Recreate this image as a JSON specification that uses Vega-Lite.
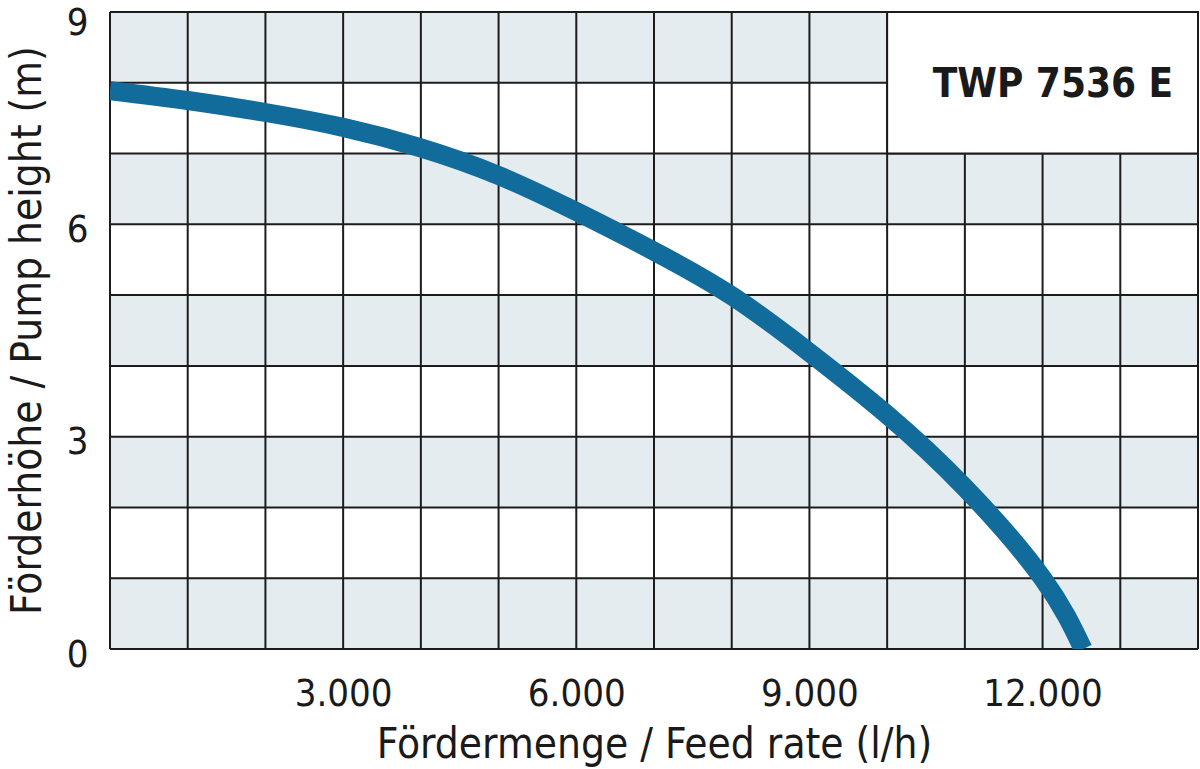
{
  "$schema": "https://vega.github.io/schema/vega-lite/v6.json",
  "width": 1088,
  "height": 637,
  "autosize": {"type": "none"},
  "padding": {"left": 110, "top": 12, "right": 2, "bottom": 120},
  "background": "white",
  "config": {
    "view": {"stroke": null},
    "font": "DejaVu Sans Condensed, Liberation Sans, sans-serif",
    "axis": {"domain": false, "ticks": false, "grid": false}
  },
  "datasets": {
    "bands": [
      {"lo": 0, "hi": 1},
      {"lo": 2, "hi": 3},
      {"lo": 4, "hi": 5},
      {"lo": 6, "hi": 7},
      {"lo": 8, "hi": 9}
    ],
    "vgrid": [
      {"x": 0}, {"x": 1000}, {"x": 2000}, {"x": 3000}, {"x": 4000}, {"x": 5000}, {"x": 6000}, {"x": 7000},
      {"x": 8000}, {"x": 9000}, {"x": 10000}, {"x": 11000}, {"x": 12000}, {"x": 13000}, {"x": 14000}
    ],
    "hgrid": [
      {"y": 0}, {"y": 1}, {"y": 2}, {"y": 3}, {"y": 4}, {"y": 5}, {"y": 6}, {"y": 7}, {"y": 8}, {"y": 9}
    ],
    "box": [{"x1": 10000, "x2": 14000, "y1": 7, "y2": 9}],
    "label": [{"x": 13680, "y": 8, "text": "TWP 7536 E"}],
    "curve": [
      {"rate": 0, "height": 7.89},
      {"rate": 1000, "height": 7.75},
      {"rate": 2000, "height": 7.58},
      {"rate": 3000, "height": 7.37},
      {"rate": 4000, "height": 7.08},
      {"rate": 5000, "height": 6.69},
      {"rate": 6000, "height": 6.18},
      {"rate": 7000, "height": 5.62},
      {"rate": 8000, "height": 4.99},
      {"rate": 9000, "height": 4.19},
      {"rate": 10000, "height": 3.31},
      {"rate": 11000, "height": 2.28},
      {"rate": 12000, "height": 1.0},
      {"rate": 12520, "height": 0}
    ]
  },
  "layer": [
    {
      "data": {"name": "bands"},
      "mark": {"type": "rect", "color": "#e4ecef"},
      "encoding": {
        "x": {"datum": 0, "type": "quantitative", "scale": {"domain": [0, 14000], "nice": false, "zero": false}},
        "x2": {"datum": 14000},
        "y": {"field": "lo", "type": "quantitative", "scale": {"domain": [0, 9], "nice": false, "zero": false}},
        "y2": {"field": "hi"}
      }
    },
    {
      "data": {"name": "vgrid"},
      "mark": {"type": "rule", "color": "#1c1c1c", "strokeWidth": 2},
      "encoding": {
        "x": {"field": "x", "type": "quantitative"},
        "y": {"datum": 0, "type": "quantitative"},
        "y2": {"datum": 9}
      }
    },
    {
      "data": {"name": "hgrid"},
      "mark": {"type": "rule", "color": "#1c1c1c", "strokeWidth": 2},
      "encoding": {
        "y": {"field": "y", "type": "quantitative"},
        "x": {"datum": 0, "type": "quantitative"},
        "x2": {"datum": 14000}
      }
    },
    {
      "data": {"name": "box"},
      "mark": {"type": "rect", "fill": "white", "stroke": "#1c1c1c", "strokeWidth": 2},
      "encoding": {
        "x": {"field": "x1", "type": "quantitative"},
        "x2": {"field": "x2"},
        "y": {"field": "y1", "type": "quantitative"},
        "y2": {"field": "y2"}
      }
    },
    {
      "data": {"name": "label"},
      "mark": {"type": "text", "font": "DejaVu Sans Condensed, Liberation Sans, sans-serif", "fontSize": 40, "fontWeight": "bold", "align": "right", "baseline": "middle", "color": "#1a1a1a", "dy": 2},
      "encoding": {
        "x": {"field": "x", "type": "quantitative"},
        "y": {"field": "y", "type": "quantitative"},
        "text": {"field": "text"}
      }
    },
    {
      "data": {"name": "curve"},
      "mark": {"type": "line", "color": "#126c9b", "strokeWidth": 19, "interpolate": "natural", "clip": true, "strokeCap": "butt"},
      "encoding": {
        "x": {
          "field": "rate", "type": "quantitative",
          "axis": {
            "values": [3000, 6000, 9000, 12000],
            "labelExpr": "replace(format(datum.value, ','), ',', '.')",
            "domain": false, "ticks": false, "grid": false,
            "labelFontSize": 38, "labelColor": "#1a1a1a",
            "labelBaseline": "alphabetic", "labelPadding": 56,
            "title": "Fördermenge / Feed rate (l/h)",
            "titleFontSize": 42, "titleFontWeight": "normal", "titleColor": "#1a1a1a",
            "titleBaseline": "alphabetic", "titleX": 544, "titleY": 108, "titleAlign": "center"
          }
        },
        "y": {
          "field": "height", "type": "quantitative",
          "axis": {
            "values": [0, 3, 6, 9],
            "format": "d",
            "domain": false, "ticks": false, "grid": false,
            "labelFontSize": 38, "labelColor": "#1a1a1a",
            "labelAlign": "right", "labelBaseline": "middle", "labelPadding": 22,
            "labelOffset": {"condition": {"test": "datum.value == 9", "value": 11}, "value": 6},
            "title": "Förderhöhe / Pump height (m)",
            "titleFontSize": 42, "titleFontWeight": "normal", "titleColor": "#1a1a1a",
            "titleAngle": -90, "titleBaseline": "alphabetic", "titleAlign": "center", "titleX": -70, "titleY": 318
          }
        }
      }
    }
  ]
}
